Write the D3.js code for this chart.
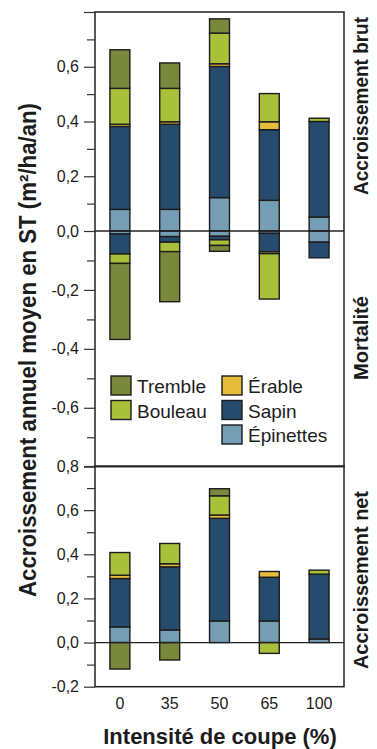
<!DOCTYPE html>
<html>
<head>
<meta charset="utf-8">
<script src="https://cdn.jsdelivr.net/npm/d3@7"></script>
<style>
  body { margin: 0; background: #fff; }
  svg { display: block; font-family: "Liberation Sans", Arial, sans-serif; }
</style>
</head>
<body>
<div id="chart"></div>
<script>
// Categories and species (stack order, bottom up)
const cuts = ["0", "35", "50", "65", "100"];
const species = ["Épinettes", "Sapin", "Érable", "Bouleau", "Tremble"];
const colors = ["#759eb4", "#274b6d", "#e6bd3b", "#a9c13a", "#7a883e"];

// Accroissement brut (m²/ha/an)
const brutEpinettes = [0.079, 0.079, 0.122, 0.112, 0.051];
const brutSapin     = [0.303, 0.311, 0.479, 0.258, 0.349];
const brutErable    = [0.008, 0.009, 0.010, 0.029, 0.000];
const brutBouleau   = [0.131, 0.122, 0.112, 0.103, 0.012];
const brutTremble   = [0.141, 0.093, 0.052, 0.000, 0.000];

// Mortalité (negative)
const mortEpinettes = [-0.010, -0.019, -0.018, -0.008, -0.038];
const mortSapin     = [-0.068, -0.019, -0.012, -0.063, -0.053];
const mortErable    = [0.000, 0.000, 0.000, -0.006, 0.000];
const mortBouleau   = [-0.032, -0.032, -0.019, -0.154, 0.000];
const mortTremble   = [-0.258, -0.170, -0.020, 0.000, 0.000];

// Accroissement net
const netEpinettes = [0.071, 0.057, 0.098, 0.098, 0.016];
const netSapin     = [0.219, 0.286, 0.465, 0.198, 0.294];
const netErable    = [0.015, 0.014, 0.015, 0.026, 0.000];
const netBouleau   = [0.103, 0.092, 0.087, -0.049, 0.018];
const netTremble   = [-0.120, -0.079, 0.032, 0.000, 0.000];

const topTicks = [0.8, 0.6, 0.4, 0.2, 0.0, -0.2, -0.4, -0.6, -0.8];
const botTicks = [0.8, 0.6, 0.4, 0.2, 0.0, -0.2];

function rows(sets) {
  return cuts.map((c, i) => {
    const r = { cut: c };
    species.forEach((s, k) => r[s] = sets[k][i]);
    return r;
  });
}
const brut = rows([brutEpinettes, brutSapin, brutErable, brutBouleau, brutTremble]);
const mort = rows([mortEpinettes, mortSapin, mortErable, mortBouleau, mortTremble]);
const net  = rows([netEpinettes, netSapin, netErable, netBouleau, netTremble]);

const width = 377, height = 749;
const svg = d3.select("#chart").append("svg")
  .attr("width", width).attr("height", height);

const x = d3.scaleBand().domain(cuts).range([95, 344])
  .paddingInner(0.6).paddingOuter(0.3);

// top panel: slightly different spacing above / below zero, as in the figure
const yTop = d3.scaleLinear().domain([-0.8, 0, 0.8]).range([466.7, 231, 12]);
const yBot = d3.scaleLinear().domain([-0.2, 0.8]).range([686.7, 466]);

const color = d3.scaleOrdinal().domain(species).range(colors);
const stack = d3.stack().keys(species).offset(d3.stackOffsetDiverging);
const fmt = v => d3.format(".1f")(v).replace(".", ",").replace("−", "-");

function drawBars(data, y) {
  const layers = stack(data);
  const g = svg.append("g");
  layers.forEach(layer => {
    g.selectAll(null)
      .data(layer.filter(d => d[1] - d[0] !== 0))
      .enter().append("rect")
      .attr("x", d => x(d.data.cut))
      .attr("width", x.bandwidth())
      .attr("y", d => y(Math.max(d[0], d[1])))
      .attr("height", d => Math.abs(y(d[0]) - y(d[1])))
      .attr("fill", color(layer.key))
      .attr("stroke", "#1c1c1c")
      .attr("stroke-width", 1.4);
  });
}

function drawAxis(y, ticks, labelled) {
  const minor = [];
  for (let i = 0; i < ticks.length - 1; i++) minor.push((ticks[i] + ticks[i + 1]) / 2);
  svg.append("g").attr("transform", "translate(95,0)")
    .call(d3.axisLeft(y).tickValues(minor).tickSize(8).tickFormat(""))
    .call(g => g.select(".domain").remove())
    .call(g => g.selectAll("line").attr("stroke", "#333").attr("stroke-width", 1.2));
  svg.append("g").attr("transform", "translate(95,0)")
    .call(d3.axisLeft(y).tickValues(ticks).tickSize(11).tickPadding(5)
      .tickFormat(d => labelled.includes(d) ? fmt(d) : ""))
    .call(g => g.select(".domain").remove())
    .call(g => g.selectAll("line").attr("stroke", "#333").attr("stroke-width", 1.2))
    .call(g => g.selectAll("text").attr("font-size", 16).attr("fill", "#1c1c1c")
      .attr("font-family", "'Liberation Sans', Arial, sans-serif"));
}

// frames
svg.append("rect").attr("x", 95).attr("y", yTop(0.8))
  .attr("width", 249).attr("height", yTop(-0.8) - yTop(0.8))
  .attr("fill", "none").attr("stroke", "#222").attr("stroke-width", 1.5);
svg.append("rect").attr("x", 95).attr("y", yBot(0.8))
  .attr("width", 249).attr("height", yBot(-0.2) - yBot(0.8))
  .attr("fill", "none").attr("stroke", "#222").attr("stroke-width", 1.5);

drawBars(brut, yTop);
drawBars(mort, yTop);
drawBars(net, yBot);

// zero lines
svg.append("line").attr("x1", 95).attr("x2", 344)
  .attr("y1", yTop(0)).attr("y2", yTop(0))
  .attr("stroke", "#222").attr("stroke-width", 1.3);
svg.append("line").attr("x1", 95).attr("x2", 344)
  .attr("y1", yBot(0)).attr("y2", yBot(0))
  .attr("stroke", "#222").attr("stroke-width", 1.3);

drawAxis(yTop, topTicks, [0.6, 0.4, 0.2, 0, -0.2, -0.4, -0.6]);
drawAxis(yBot, botTicks, botTicks);

// x axis labels
svg.append("g").selectAll("text").data(cuts).enter().append("text")
  .attr("x", d => x(d) + x.bandwidth() / 2)
  .attr("y", 709)
  .attr("text-anchor", "middle")
  .attr("font-size", 16).attr("fill", "#1c1c1c")
  .text(d => d);

svg.append("text")
  .attr("x", 220).attr("y", 744)
  .attr("text-anchor", "middle")
  .attr("font-size", 22).attr("font-weight", "bold").attr("fill", "#1c1c1c")
  .text("Intensité de coupe (%)");

// y title
svg.append("text")
  .attr("transform", "translate(36,350) rotate(-90)")
  .attr("text-anchor", "middle")
  .attr("font-size", 23).attr("font-weight", "bold").attr("fill", "#1c1c1c")
  .attr("textLength", 494).attr("lengthAdjust", "spacingAndGlyphs")
  .text("Accroissement annuel moyen en ST (m²/ha/an)");

// right side panel titles
const sideTitles = [
  { text: "Accroissement brut", y: 106, len: 178 },
  { text: "Mortalité", y: 338, len: 84 },
  { text: "Accroissement net", y: 580, len: 178 }
];
svg.append("g").selectAll("text").data(sideTitles).enter().append("text")
  .attr("transform", d => `translate(368,${d.y}) rotate(-90)`)
  .attr("text-anchor", "middle")
  .attr("font-size", 21).attr("font-weight", "bold").attr("fill", "#1c1c1c")
  .attr("textLength", d => d.len).attr("lengthAdjust", "spacingAndGlyphs")
  .text(d => d.text);

// legend
const legendItems = [
  { key: "Tremble", col: 0, row: 0 },
  { key: "Bouleau", col: 0, row: 1 },
  { key: "Érable", col: 1, row: 0 },
  { key: "Sapin", col: 1, row: 1 },
  { key: "Épinettes", col: 1, row: 2 }
];
const legend = svg.append("g");
const li = legend.selectAll("g").data(legendItems).enter().append("g")
  .attr("transform", d => `translate(${111 + d.col * 111},${376 + d.row * 24.5})`);
li.append("rect").attr("width", 20).attr("height", 19)
  .attr("fill", d => color(d.key))
  .attr("stroke", "#1c1c1c").attr("stroke-width", 1.4);
li.append("text").attr("x", 26).attr("y", 17)
  .attr("font-size", 19).attr("fill", "#1c1c1c")
  .text(d => d.key);
</script>
</body>
</html>
